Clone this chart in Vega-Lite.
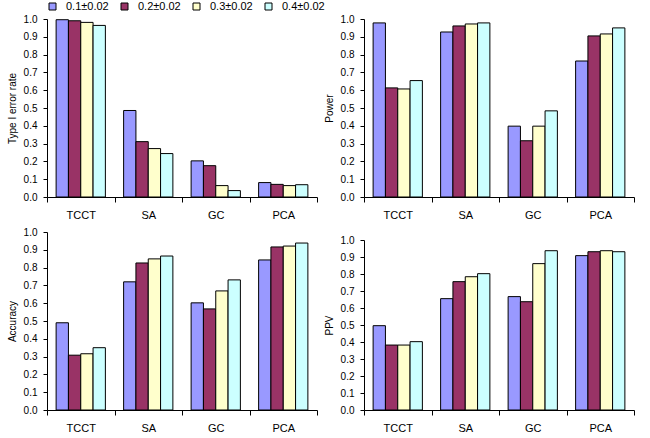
{
  "$schema": "https://vega.github.io/schema/vega-lite/v6.json",
  "padding": {"left": 7, "top": 1, "right": 5, "bottom": 3},
  "spacing": 7,
  "datasets": {
    "d": [
      {"metric": "Type I error rate", "method": "TCCT", "rate": "0.1±0.02", "value": 0.996},
      {"metric": "Type I error rate", "method": "TCCT", "rate": "0.2±0.02", "value": 0.990},
      {"metric": "Type I error rate", "method": "TCCT", "rate": "0.3±0.02", "value": 0.981},
      {"metric": "Type I error rate", "method": "TCCT", "rate": "0.4±0.02", "value": 0.964},
      {"metric": "Type I error rate", "method": "SA", "rate": "0.1±0.02", "value": 0.486},
      {"metric": "Type I error rate", "method": "SA", "rate": "0.2±0.02", "value": 0.311},
      {"metric": "Type I error rate", "method": "SA", "rate": "0.3±0.02", "value": 0.272},
      {"metric": "Type I error rate", "method": "SA", "rate": "0.4±0.02", "value": 0.244},
      {"metric": "Type I error rate", "method": "GC", "rate": "0.1±0.02", "value": 0.203},
      {"metric": "Type I error rate", "method": "GC", "rate": "0.2±0.02", "value": 0.176},
      {"metric": "Type I error rate", "method": "GC", "rate": "0.3±0.02", "value": 0.064},
      {"metric": "Type I error rate", "method": "GC", "rate": "0.4±0.02", "value": 0.036},
      {"metric": "Type I error rate", "method": "PCA", "rate": "0.1±0.02", "value": 0.081},
      {"metric": "Type I error rate", "method": "PCA", "rate": "0.2±0.02", "value": 0.071},
      {"metric": "Type I error rate", "method": "PCA", "rate": "0.3±0.02", "value": 0.064},
      {"metric": "Type I error rate", "method": "PCA", "rate": "0.4±0.02", "value": 0.069},
      {"metric": "Power", "method": "TCCT", "rate": "0.1±0.02", "value": 0.978},
      {"metric": "Power", "method": "TCCT", "rate": "0.2±0.02", "value": 0.613},
      {"metric": "Power", "method": "TCCT", "rate": "0.3±0.02", "value": 0.607},
      {"metric": "Power", "method": "TCCT", "rate": "0.4±0.02", "value": 0.654},
      {"metric": "Power", "method": "SA", "rate": "0.1±0.02", "value": 0.927},
      {"metric": "Power", "method": "SA", "rate": "0.2±0.02", "value": 0.961},
      {"metric": "Power", "method": "SA", "rate": "0.3±0.02", "value": 0.972},
      {"metric": "Power", "method": "SA", "rate": "0.4±0.02", "value": 0.978},
      {"metric": "Power", "method": "GC", "rate": "0.1±0.02", "value": 0.398},
      {"metric": "Power", "method": "GC", "rate": "0.2±0.02", "value": 0.316},
      {"metric": "Power", "method": "GC", "rate": "0.3±0.02", "value": 0.398},
      {"metric": "Power", "method": "GC", "rate": "0.4±0.02", "value": 0.484},
      {"metric": "Power", "method": "PCA", "rate": "0.1±0.02", "value": 0.764},
      {"metric": "Power", "method": "PCA", "rate": "0.2±0.02", "value": 0.905},
      {"metric": "Power", "method": "PCA", "rate": "0.3±0.02", "value": 0.916},
      {"metric": "Power", "method": "PCA", "rate": "0.4±0.02", "value": 0.950},
      {"metric": "Accuracy", "method": "TCCT", "rate": "0.1±0.02", "value": 0.490},
      {"metric": "Accuracy", "method": "TCCT", "rate": "0.2±0.02", "value": 0.308},
      {"metric": "Accuracy", "method": "TCCT", "rate": "0.3±0.02", "value": 0.316},
      {"metric": "Accuracy", "method": "TCCT", "rate": "0.4±0.02", "value": 0.350},
      {"metric": "Accuracy", "method": "SA", "rate": "0.1±0.02", "value": 0.720},
      {"metric": "Accuracy", "method": "SA", "rate": "0.2±0.02", "value": 0.826},
      {"metric": "Accuracy", "method": "SA", "rate": "0.3±0.02", "value": 0.849},
      {"metric": "Accuracy", "method": "SA", "rate": "0.4±0.02", "value": 0.865},
      {"metric": "Accuracy", "method": "GC", "rate": "0.1±0.02", "value": 0.602},
      {"metric": "Accuracy", "method": "GC", "rate": "0.2±0.02", "value": 0.568},
      {"metric": "Accuracy", "method": "GC", "rate": "0.3±0.02", "value": 0.669},
      {"metric": "Accuracy", "method": "GC", "rate": "0.4±0.02", "value": 0.731},
      {"metric": "Accuracy", "method": "PCA", "rate": "0.1±0.02", "value": 0.843},
      {"metric": "Accuracy", "method": "PCA", "rate": "0.2±0.02", "value": 0.916},
      {"metric": "Accuracy", "method": "PCA", "rate": "0.3±0.02", "value": 0.921},
      {"metric": "Accuracy", "method": "PCA", "rate": "0.4±0.02", "value": 0.938},
      {"metric": "PPV", "method": "TCCT", "rate": "0.1±0.02", "value": 0.496},
      {"metric": "PPV", "method": "TCCT", "rate": "0.2±0.02", "value": 0.382},
      {"metric": "PPV", "method": "TCCT", "rate": "0.3±0.02", "value": 0.382},
      {"metric": "PPV", "method": "TCCT", "rate": "0.4±0.02", "value": 0.402},
      {"metric": "PPV", "method": "SA", "rate": "0.1±0.02", "value": 0.655},
      {"metric": "PPV", "method": "SA", "rate": "0.2±0.02", "value": 0.755},
      {"metric": "PPV", "method": "SA", "rate": "0.3±0.02", "value": 0.784},
      {"metric": "PPV", "method": "SA", "rate": "0.4±0.02", "value": 0.802},
      {"metric": "PPV", "method": "GC", "rate": "0.1±0.02", "value": 0.667},
      {"metric": "PPV", "method": "GC", "rate": "0.2±0.02", "value": 0.637},
      {"metric": "PPV", "method": "GC", "rate": "0.3±0.02", "value": 0.861},
      {"metric": "PPV", "method": "GC", "rate": "0.4±0.02", "value": 0.937},
      {"metric": "PPV", "method": "PCA", "rate": "0.1±0.02", "value": 0.908},
      {"metric": "PPV", "method": "PCA", "rate": "0.2±0.02", "value": 0.931},
      {"metric": "PPV", "method": "PCA", "rate": "0.3±0.02", "value": 0.937},
      {"metric": "PPV", "method": "PCA", "rate": "0.4±0.02", "value": 0.931}
    ]
  },
  "config": {
    "font": "Liberation Sans",
    "view": {"stroke": null},
    "axis": {
      "grid": false,
      "domainColor": "black",
      "tickColor": "black",
      "labelColor": "black",
      "titleColor": "black",
      "labelFont": "Liberation Sans",
      "titleFont": "Liberation Sans",
      "labelFontSize": 10,
      "titleFontSize": 10,
      "titleFontWeight": "normal"
    },
    "axisX": {"title": null, "labelAngle": 0, "tickBand": "extent", "tickSize": 5, "labelPadding": 7, "labelFontSize": 11},
    "axisY": {"format": ".1f", "tickSize": 4, "labelPadding": 6, "titlePadding": 6, "labelOverlap": false},
    "legend": {
      "orient": "none",
      "legendX": 0,
      "legendY": -18,
      "direction": "horizontal",
      "title": null,
      "symbolType": "square",
      "symbolSize": 49,
      "symbolStrokeColor": "black",
      "symbolStrokeWidth": 1,
      "labelFontSize": 11,
      "labelFont": "Liberation Sans",
      "labelColor": "black",
      "columnPadding": 10,
      "labelOffset": 8
    }
  },
  "vconcat": [
    {
      "spacing": 6,
      "hconcat": [
        {
          "data": {"name": "d"},
          "transform": [{"filter": "datum.metric === 'Type I error rate'"}],
          "width": 270,
          "height": 178,
          "mark": {"type": "bar", "stroke": "black", "strokeWidth": 1},
          "encoding": {
            "x": {"field": "method", "type": "nominal", "sort": ["TCCT", "SA", "GC", "PCA"], "scale": {"paddingInner": 0, "paddingOuter": 0}},
            "xOffset": {"field": "rate", "type": "nominal", "scale": {"paddingInner": 0, "paddingOuter": 0.74}},
            "y": {"field": "value", "type": "quantitative", "scale": {"domain": [0, 1]}, "axis": {"title": "Type I error rate", "values": [0, 0.1, 0.2, 0.3, 0.4, 0.5, 0.6, 0.7, 0.8, 0.9, 1.0]}},
            "fill": {"field": "rate", "type": "nominal", "scale": {"domain": ["0.1±0.02", "0.2±0.02", "0.3±0.02", "0.4±0.02"], "range": ["#9999FF", "#993366", "#FFFFCC", "#CCFFFF"]}}
          }
        },
        {
          "data": {"name": "d"},
          "transform": [{"filter": "datum.metric === 'Power'"}],
          "width": 270,
          "height": 178,
          "mark": {"type": "bar", "stroke": "black", "strokeWidth": 1},
          "encoding": {
            "x": {"field": "method", "type": "nominal", "sort": ["TCCT", "SA", "GC", "PCA"], "scale": {"paddingInner": 0, "paddingOuter": 0}},
            "xOffset": {"field": "rate", "type": "nominal", "scale": {"paddingInner": 0, "paddingOuter": 0.74}},
            "y": {"field": "value", "type": "quantitative", "scale": {"domain": [0, 1]}, "axis": {"title": "Power", "values": [0, 0.1, 0.2, 0.3, 0.4, 0.5, 0.6, 0.7, 0.8, 0.9, 1.0]}},
            "fill": {"field": "rate", "type": "nominal", "scale": {"domain": ["0.1±0.02", "0.2±0.02", "0.3±0.02", "0.4±0.02"], "range": ["#9999FF", "#993366", "#FFFFCC", "#CCFFFF"]}}
          }
        }
      ]
    },
    {
      "spacing": 6,
      "hconcat": [
        {
          "data": {"name": "d"},
          "transform": [{"filter": "datum.metric === 'Accuracy'"}],
          "width": 270,
          "height": 178,
          "mark": {"type": "bar", "stroke": "black", "strokeWidth": 1},
          "encoding": {
            "x": {"field": "method", "type": "nominal", "sort": ["TCCT", "SA", "GC", "PCA"], "scale": {"paddingInner": 0, "paddingOuter": 0}},
            "xOffset": {"field": "rate", "type": "nominal", "scale": {"paddingInner": 0, "paddingOuter": 0.74}},
            "y": {"field": "value", "type": "quantitative", "scale": {"domain": [0, 1]}, "axis": {"title": "Accuracy", "values": [0, 0.1, 0.2, 0.3, 0.4, 0.5, 0.6, 0.7, 0.8, 0.9, 1.0]}},
            "fill": {"field": "rate", "type": "nominal", "scale": {"domain": ["0.1±0.02", "0.2±0.02", "0.3±0.02", "0.4±0.02"], "range": ["#9999FF", "#993366", "#FFFFCC", "#CCFFFF"]}}
          }
        },
        {
          "data": {"name": "d"},
          "transform": [{"filter": "datum.metric === 'PPV'"}],
          "width": 270,
          "height": 178,
          "mark": {"type": "bar", "stroke": "black", "strokeWidth": 1},
          "encoding": {
            "x": {"field": "method", "type": "nominal", "sort": ["TCCT", "SA", "GC", "PCA"], "scale": {"paddingInner": 0, "paddingOuter": 0}},
            "xOffset": {"field": "rate", "type": "nominal", "scale": {"paddingInner": 0, "paddingOuter": 0.74}},
            "y": {"field": "value", "type": "quantitative", "scale": {"domain": [0, 1], "range": [178, 8]}, "axis": {"title": "PPV", "values": [0, 0.1, 0.2, 0.3, 0.4, 0.5, 0.6, 0.7, 0.8, 0.9, 1.0]}},
            "fill": {"field": "rate", "type": "nominal", "scale": {"domain": ["0.1±0.02", "0.2±0.02", "0.3±0.02", "0.4±0.02"], "range": ["#9999FF", "#993366", "#FFFFCC", "#CCFFFF"]}}
          }
        }
      ]
    }
  ]
}
